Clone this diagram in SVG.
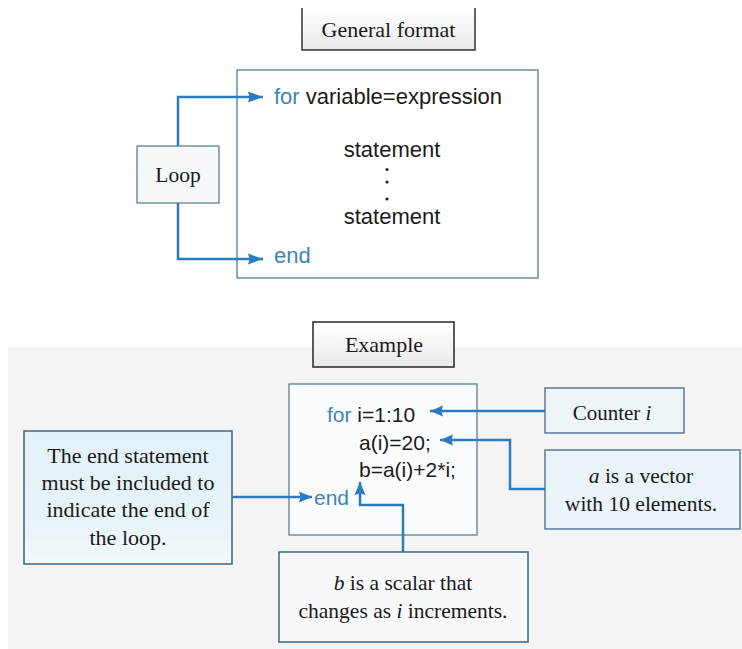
<svg xmlns="http://www.w3.org/2000/svg" width="742" height="649" viewBox="0 0 742 649">
<defs>
  <linearGradient id="hdr" x1="0" y1="0" x2="0" y2="1">
    <stop offset="0" stop-color="#ffffff"/>
    <stop offset="1" stop-color="#e9e9e9"/>
  </linearGradient>
  <linearGradient id="cyan" x1="0" y1="0" x2="0" y2="1">
    <stop offset="0" stop-color="#e2f1f6"/>
    <stop offset="0.7" stop-color="#e6f3f7"/>
    <stop offset="1" stop-color="#f4f9fb"/>
  </linearGradient>
  <marker id="ahBig" markerUnits="userSpaceOnUse" markerWidth="16" markerHeight="12" refX="15" refY="6" orient="auto">
    <path d="M0,0.5 L15,6 L0,11.5 L1.5,6 Z" fill="#2a7bbf"/>
  </marker>
  <marker id="ahSm" markerUnits="userSpaceOnUse" markerWidth="14" markerHeight="12" refX="13" refY="6" orient="auto">
    <path d="M0,0.5 L13,6 L0,11.5 L1.5,6 Z" fill="#2a7bbf"/>
  </marker>
</defs>
<style>
  .serif { font-family: "Liberation Serif", "Times New Roman", serif; fill: #1a1a1a; }
  .sans { font-family: "Liberation Sans", Arial, sans-serif; fill: #1a1a1a; }
  .kw { fill: #3f84b3; }
  .conn { fill: none; stroke: #2a7bbf; stroke-width: 2.5; }
  .box { stroke: #3b6482; stroke-width: 1.5; }
</style>

<!-- lower panel background -->
<rect x="8" y="347" width="734" height="302" fill="#f4f4f4"/>

<!-- General format header -->
<g id="general-format">
  <rect x="302" y="8" width="173" height="42" fill="url(#hdr)"/>
  <path d="M302,8 V50 H475 V8" fill="none" stroke="#333" stroke-width="1.5"/>
  <text class="serif" x="388.5" y="37" font-size="22" text-anchor="middle">General format</text>
</g>

<!-- General format body -->
<g id="format-box">
  <rect x="237" y="70" width="301" height="208" fill="#ffffff" stroke="#4f7c98" stroke-width="1.3"/>
  <text class="sans" x="274" y="104" font-size="22"><tspan class="kw">for</tspan> variable=expression</text>
  <text class="sans" x="392" y="157" font-size="22" text-anchor="middle">statement</text>
  <circle cx="387" cy="169.5" r="1.6" fill="#222"/>
  <circle cx="387" cy="182" r="1.6" fill="#222"/>
  <circle cx="387" cy="199" r="1.6" fill="#222"/>
  <text class="sans" x="392" y="224" font-size="22" text-anchor="middle">statement</text>
  <text class="sans kw" x="274" y="263" font-size="22">end</text>
</g>

<g id="loop">
  <rect x="137" y="146" width="82" height="57" fill="#f6f9fa" stroke="#5f7f94" stroke-width="1.3"/>
  <text class="serif" x="178" y="182" font-size="21.5" text-anchor="middle">Loop</text>
</g>

<!-- Example header -->
<g id="example">
  <rect x="313" y="322" width="141" height="45" fill="url(#hdr)" stroke="#333" stroke-width="1.6"/>
  <text class="serif" x="384" y="352" font-size="22" text-anchor="middle">Example</text>
</g>

<g id="code-box">
  <rect x="289" y="384" width="188" height="151" fill="#fbfcfd" stroke="#5a7f9a" stroke-width="1.3"/>
  <text class="sans" x="327" y="422" font-size="21"><tspan class="kw">for</tspan> i=1:10</text>
  <text class="sans" x="359" y="450" font-size="21">a(i)=20;</text>
  <text class="sans" x="359" y="477" font-size="21">b=a(i)+2*i;</text>
  <text class="sans kw" x="314" y="505" font-size="21">end</text>
</g>

<g id="end-note">
  <rect x="24" y="431" width="208" height="133" fill="url(#cyan)" class="box"/>
  <text class="serif" x="128" y="463" font-size="22" text-anchor="middle">The end statement</text>
  <text class="serif" x="128" y="490" font-size="22" text-anchor="middle">must be included to</text>
  <text class="serif" x="128" y="517" font-size="22" text-anchor="middle">indicate the end of</text>
  <text class="serif" x="128" y="545" font-size="22" text-anchor="middle">the loop.</text>
</g>

<g id="counter">
  <rect x="545" y="388" width="139" height="45" fill="#eef5f8" stroke="#4f7290" stroke-width="1.4"/>
  <text class="serif" x="612" y="420" font-size="21" text-anchor="middle">Counter <tspan font-style="italic">i</tspan></text>
</g>

<g id="vector-note">
  <rect x="545" y="450" width="195" height="79" fill="#eaf3f7" stroke="#4f7290" stroke-width="1.4"/>
  <text class="serif" x="641" y="483" font-size="21.5" text-anchor="middle"><tspan font-style="italic">a</tspan> is a vector</text>
  <text class="serif" x="641" y="511" font-size="21.5" text-anchor="middle">with 10 elements.</text>
</g>

<g id="scalar-note">
  <rect x="279" y="552" width="249" height="90" fill="#f6f8fa" class="box"/>
  <text class="serif" x="403" y="590" font-size="21.5" text-anchor="middle"><tspan font-style="italic">b</tspan> is a scalar that</text>
  <text class="serif" x="403" y="618" font-size="21.5" text-anchor="middle">changes as <tspan font-style="italic">i</tspan> increments.</text>
</g>

<g id="connectors">
  <path class="conn" d="M178,146 V97 H263" marker-end="url(#ahBig)"/>
  <path class="conn" d="M178,203 V259 H263" marker-end="url(#ahBig)"/>
  <path class="conn" d="M545,411 H430" marker-end="url(#ahSm)"/>
  <path class="conn" d="M545,489 H510 V440 H440" marker-end="url(#ahSm)"/>
  <path class="conn" d="M232,497 H312" marker-end="url(#ahSm)"/>
  <path class="conn" d="M403,552 V505 H360 V482" marker-end="url(#ahSm)"/>
</g>
</svg>
